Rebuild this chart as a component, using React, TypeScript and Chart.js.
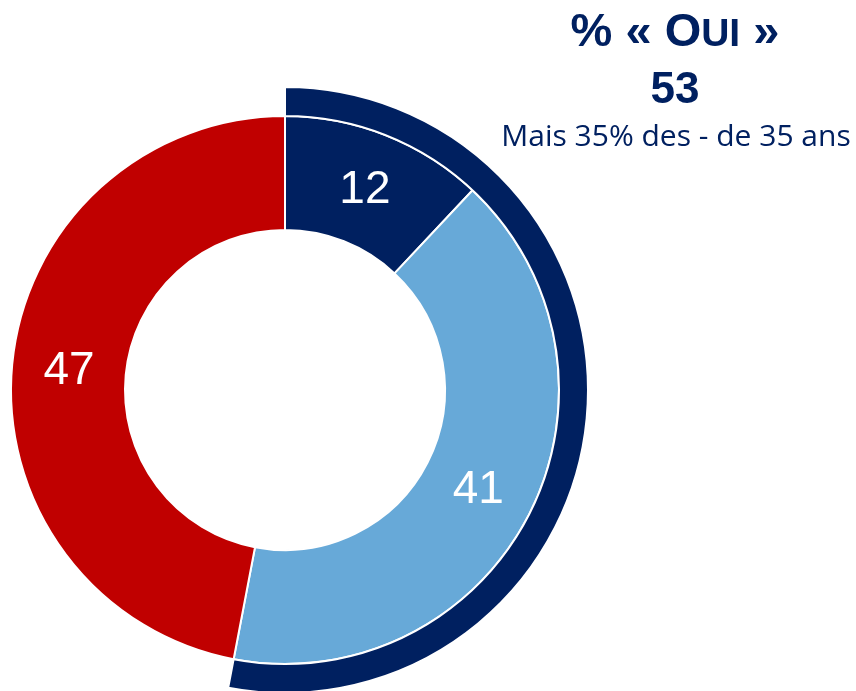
import React, { useEffect, useRef } from "react";
import { Chart, registerables } from "chart.js";

Chart.register(...registerables);

const categories = ["Oui, tout à fait", "Oui, plutôt", "Non"];
const innerValues = [12, 41, 47];
const innerColors = ["#002060", "#67A9D8", "#C00000"];
const outerLabels = ["% « Oui »", ""];
const outerValues = [53, 47];
const outerColors = ["#002060", "rgba(0,0,0,0)"];
const titleMain = "% « O";
const titleSmall = "UI";
const titleEnd = " »";
const titleValue = "53";
const subtitle = "Mais 35% des - de 35 ans";

const labelPlugin = {
  id: "segmentLabels",
  afterDatasetsDraw(chart: any) {
    const ctx = chart.ctx;
    const meta = chart.getDatasetMeta(1);
    ctx.save();
    ctx.fillStyle = "#FFFFFF";
    ctx.font = "46px 'Liberation Sans', Arial, sans-serif";
    ctx.textAlign = "center";
    ctx.textBaseline = "middle";
    meta.data.forEach((el: any, i: number) => {
      const p = el.tooltipPosition(false);
      ctx.fillText(String(innerValues[i]), p.x, p.y + 2);
    });
    ctx.restore();
  },
};

export default function App() {
  const ref = useRef<HTMLCanvasElement>(null);
  useEffect(() => {
    if (!ref.current) return;
    const chart = new Chart(ref.current, {
      type: "doughnut",
      data: {
        labels: categories,
        datasets: [
          {
            label: outerLabels[0],
            data: outerValues,
            backgroundColor: outerColors,
            borderColor: "#FFFFFF",
            borderWidth: [2, 0],
            weight: 29,
            clip: false,
          } as any,
          {
            label: "Réponses",
            data: innerValues,
            backgroundColor: innerColors,
            borderColor: "#FFFFFF",
            borderWidth: 2,
            weight: 114,
            clip: false,
          } as any,
        ],
      },
      options: {
        responsive: false,
        animation: false,
        events: [],
        radius: 303,
        cutout: "52.8%",
        rotation: 0,
        circumference: 360,
        layout: { padding: { left: 0, right: 286, top: 89, bottom: 0 } },
        plugins: {
          legend: { display: false },
          tooltip: { enabled: false },
          title: { display: false },
        },
      } as any,
      plugins: [labelPlugin],
    });
    return () => chart.destroy();
  }, []);

  const navy = "#002060";
  return (
    <div
      style={{
        position: "fixed",
        left: 0,
        top: 0,
        width: 856,
        height: 691,
        overflow: "hidden",
        background: "#FFFFFF",
      }}
    >
      <canvas
        ref={ref}
        width={856}
        height={691}
        style={{ position: "absolute", left: 0, top: 0, width: 856, height: 691 }}
      />
      <div
        style={{
          position: "absolute",
          left: 475,
          width: 400,
          top: 6,
          textAlign: "center",
          fontFamily: "'Liberation Sans', Arial, sans-serif",
          fontWeight: "bold",
          fontSize: 47,
          lineHeight: "47px",
          color: navy,
          whiteSpace: "nowrap",
        }}
      >
        {titleMain}
        <span style={{ fontSize: 39 }}>{titleSmall}</span>
        {titleEnd}
      </div>
      <div
        style={{
          position: "absolute",
          left: 475,
          width: 400,
          top: 66,
          textAlign: "center",
          fontFamily: "'Liberation Sans', Arial, sans-serif",
          fontWeight: "bold",
          fontSize: 44,
          lineHeight: "44px",
          color: navy,
        }}
      >
        {titleValue}
      </div>
      <div
        style={{
          position: "absolute",
          left: 476,
          width: 400,
          top: 120,
          textAlign: "center",
          fontFamily: "'Open Sans', 'Noto Sans', sans-serif",
          fontSize: 30,
          lineHeight: "30px",
          color: navy,
          whiteSpace: "nowrap",
        }}
      >
        {subtitle}
      </div>
    </div>
  );
}
